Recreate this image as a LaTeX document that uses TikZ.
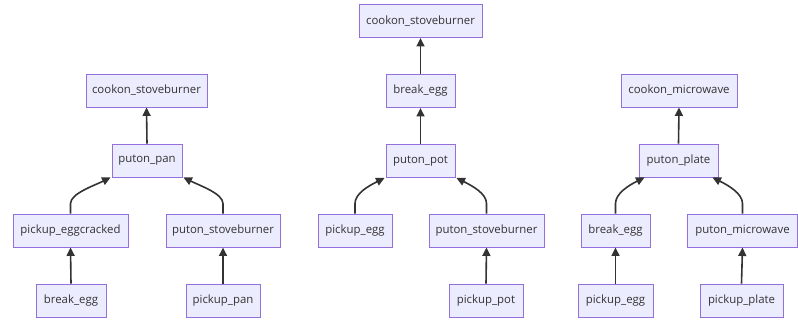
\documentclass[tikz,border=0pt]{standalone}
\usepackage{fontspec}
\setmainfont{Open Sans}
\usetikzlibrary{arrows.meta}
\definecolor{nodefill}{HTML}{ECECFF}
\definecolor{nodeline}{HTML}{9370DB}
\definecolor{edgecol}{HTML}{333333}
\tikzset{
  box/.style={draw=nodeline, fill=nodefill, line width=0.9pt, minimum height=33pt,
    inner sep=0pt, text=edgecol, font=\fontsize{11.4}{13}\selectfont},
  edge/.style={draw=edgecol, line width=1.6pt, -{Triangle[length=8.5pt,width=8pt]}},
}
\begin{document}
\begin{tikzpicture}[x=1pt,y=-1pt]
\useasboundingbox (0,0) rectangle (798,325);
% left tree
\node[box, minimum width=121pt] (a1) at (146.5,90.5) {cookon\_stoveburner};
\node[box, minimum width=70pt] (a2) at (147,160.5) {puton\_pan};
\node[box, minimum width=115pt] (a3) at (70.5,230.5) {pickup\_eggcracked};
\node[box, minimum width=114pt] (a4) at (223,230.5) {puton\_stoveburner};
\node[box, minimum width=70pt] (a5) at (71,300.5) {break\_egg};
\node[box, minimum width=74pt] (a6) at (223,300.5) {pickup\_pan};
\draw[edge] (a2.north) -- (a1.south);
\draw[edge] (a5.north) -- (a3.south);
\draw[edge] (a6.north) -- (a4.south);
\draw[edge] (a3.north) -- ++(0,-10) .. controls +(0,-10) and +(-16,8) .. ([xshift=-1pt]a2.south west);
\draw[edge] (a4.north) -- ++(0,-10) .. controls +(0,-10) and +(16,8) .. ([xshift=1pt]a2.south east);
% middle tree
\node[box, minimum width=123pt] (b1) at (420.5,21) {cookon\_stoveburner};
\node[box, minimum width=69pt] (b2) at (420.5,91) {break\_egg};
\node[box, minimum width=69pt] (b3) at (420.5,161) {puton\_pot};
\node[box, minimum width=74pt] (b4) at (355,230.5) {pickup\_egg};
\node[box, minimum width=115pt] (b5) at (486.5,230.5) {puton\_stoveburner};
\node[box, minimum width=74pt] (b6) at (486,300.5) {pickup\_pot};
\draw[edge] (b2.north) -- (b1.south);
\draw[edge] (b3.north) -- (b2.south);
\draw[edge] (b6.north) -- (b5.south);
\draw[edge] (b4.north) -- ++(0,-10) .. controls +(0,-10) and +(-16,8) .. ([xshift=-1pt]b3.south west);
\draw[edge] (b5.north) -- ++(0,-10) .. controls +(0,-10) and +(16,8) .. ([xshift=1pt]b3.south east);
% right tree
\node[box, minimum width=116pt] (c1) at (679,90.5) {cookon\_microwave};
\node[box, minimum width=79pt] (c2) at (678.5,160.5) {puton\_plate};
\node[box, minimum width=69pt] (c3) at (615.5,230.5) {break\_egg};
\node[box, minimum width=110pt] (c4) at (742.5,230.5) {puton\_microwave};
\node[box, minimum width=75pt] (c5) at (615.5,300.5) {pickup\_egg};
\node[box, minimum width=83pt] (c6) at (741.5,300.5) {pickup\_plate};
\draw[edge] (c2.north) -- (c1.south);
\draw[edge] (c5.north) -- (c3.south);
\draw[edge] (c6.north) -- (c4.south);
\draw[edge] (c3.north) -- ++(0,-10) .. controls +(0,-10) and +(-16,8) .. ([xshift=6pt]c2.south west);
\draw[edge] (c4.north) -- ++(0,-10) .. controls +(0,-10) and +(16,8) .. ([xshift=-6pt]c2.south east);
\end{tikzpicture}
\end{document}
